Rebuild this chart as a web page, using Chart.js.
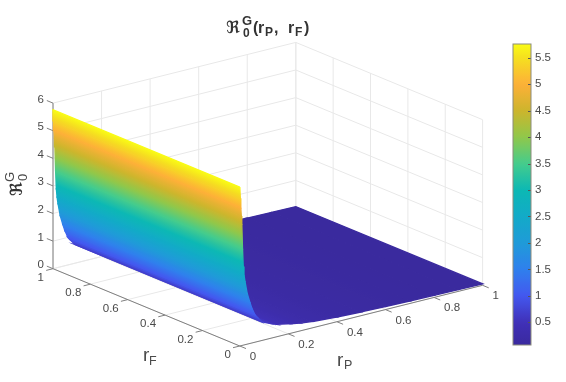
<!DOCTYPE html>
<html>
<head>
<meta charset="utf-8">
<style>
  html, body { margin: 0; padding: 0; background: #fff; }
  #wrap { position: relative; width: 566px; height: 382px; overflow: hidden; }
  #surface { position: absolute; left: 0; top: 0; }
  #colorbar { position: absolute; left: 500px; top: 30px; }
</style>
<script src="https://cdn.jsdelivr.net/npm/chart.js@4"></script>
</head>
<body>
<div id="wrap">
  <canvas id="surface" width="566" height="382"></canvas>
  <canvas id="colorbar" width="66" height="330"></canvas>
</div>
<script>
// surface does not change along rF, so one profile over rP is enough
const rPValues = [0, 0.002, 0.004, 0.006, 0.008, 0.011, 0.014, 0.017, 0.021, 0.03, 0.041, 0.05, 0.062, 0.07, 0.09, 0.124, 0.15, 0.207, 0.25, 0.3, 0.4, 0.5, 0.6, 0.7, 0.8, 0.9, 1];
const r0Values = [5.76, 5.35, 5.0, 4.7, 4.4, 3.5, 2.85, 2.55, 2.3, 1.85, 1.5, 1.25, 1.0, 0.9, 0.68, 0.55, 0.46, 0.35, 0.28, 0.23, 0.17, 0.135, 0.11, 0.09, 0.075, 0.062, 0.05];
const rFEdges = [0, 1];

const rPTicks = [0, 0.2, 0.4, 0.6, 0.8, 1];
const rFTicks = [0, 0.2, 0.4, 0.6, 0.8, 1];
const zTicks = [0, 1, 2, 3, 4, 5, 6];
const colorbarTicks = [0.5, 1, 1.5, 2, 2.5, 3, 3.5, 4, 4.5, 5, 5.5];
const colorMin = 0.07;
const colorMax = 5.76;

// colour at these values
const mapValues = [0.07, 0.5, 1, 1.5, 2, 2.5, 3, 3.5, 4, 4.5, 5, 5.5, 5.76];
const mapColors = [[58,42,158], [64,48,184], [67,88,239], [47,128,237], [31,155,216], [18,170,200], [12,184,180], [69,204,140], [144,200,74], [205,181,44], [253,176,56], [245,224,31], [249,251,21]];

const GRID = "#e8e8e8";
const AXIS = "#7f7f7f";
const TEXT = "#4a4a4a";
const SANS = '"Liberation Sans", Arial, sans-serif';

// MATLAB style orthographic view, corners
function proj(rP, rF, z) {
  return {
    x: 239.8 + rP * 242.8 - rF * 186.8,
    y: 346 - rP * 60.7 - rF * 77.3 - z * 27.6,
  };
}

function colorAt(v) {
  let i = 0;
  while (i < mapValues.length - 2 && v > mapValues[i + 1]) i++;
  const t = Math.min(1, Math.max(0, (v - mapValues[i]) / (mapValues[i + 1] - mapValues[i])));
  const c = mapColors[i].map((a, k) => Math.round(a + (mapColors[i + 1][k] - a) * t));
  return `rgb(${c[0]},${c[1]},${c[2]})`;
}

function addStops(grad, z0, z1) {
  const n = Math.max(2, Math.ceil(Math.abs(z1 - z0) / 0.08));
  for (let i = 0; i <= n; i++) {
    grad.addColorStop(i / n, colorAt(z0 + (z1 - z0) * i / n));
  }
}

// gradient for one strip, runs across the strip and stays flat along rF
function stripFill(rP0, rP1, z0, z1) {
  return (c) => {
    const { chart } = c;
    if (!chart.chartArea) return colorAt(z0);
    const sx = chart.scales.x, sy = chart.scales.y;
    const px = (p) => ({ x: sx.getPixelForValue(p.x), y: sy.getPixelForValue(p.y) });
    const a = px(proj(rP0, 0, z0));
    const b = px(proj(rP1, 0, z1));
    const e = px(proj(rP0, 1, z0));
    let nx = -(e.y - a.y), ny = e.x - a.x;
    const len = Math.hypot(nx, ny);
    nx /= len; ny /= len;
    const d = (b.x - a.x) * nx + (b.y - a.y) * ny;
    const grad = chart.ctx.createLinearGradient(a.x, a.y, a.x + nx * d, a.y + ny * d);
    addStops(grad, z0, z1);
    return grad;
  };
}

const datasets = [];
function addLine(points, color, width) {
  datasets.push({
    data: points, showLine: true, pointRadius: 0, borderColor: color, borderWidth: width,
    fill: false, tension: 0, order: -datasets.length,
  });
}

// back walls and floor grid
zTicks.forEach((z) => {
  addLine([proj(0, 1, z), proj(1, 1, z), proj(1, 0, z)], GRID, 1);
});
rPTicks.forEach((v) => {
  addLine([proj(v, 0, 0), proj(v, 1, 0), proj(v, 1, 6)], GRID, 1);
});
rFTicks.forEach((v) => {
  addLine([proj(0, v, 0), proj(1, v, 0), proj(1, v, 6)], GRID, 1);
});

// axes
addLine([proj(0, 1, 0), proj(0, 1, 6)], AXIS, 1);
addLine([proj(0, 1, 0), proj(0, 0, 0), proj(1, 0, 0)], AXIS, 1);
zTicks.forEach((z) => addLine([proj(0, 1, z), proj(0, 1.033, z)], AXIS, 1));
rFTicks.forEach((v) => addLine([proj(0, v, 0), proj(-0.028, v, 0)], AXIS, 1));
rPTicks.forEach((v) => addLine([proj(v, 0, 0), proj(v, -0.033, 0)], AXIS, 1));

// surface strips, far rP first so the wall ends up in front
for (let i = rPValues.length - 2; i >= 0; i--) {
  const a = rPValues[i], b = rPValues[i + 1];
  const za = r0Values[i], zb = r0Values[i + 1];
  const fill = stripFill(a, b, za, zb);
  datasets.push({
    data: [
      proj(a, rFEdges[0], za), proj(b, rFEdges[0], zb),
      proj(b, rFEdges[1], zb), proj(a, rFEdges[1], za), proj(a, rFEdges[0], za),
    ],
    showLine: true, pointRadius: 0, tension: 0, fill: "shape",
    backgroundColor: fill, borderColor: fill, borderWidth: 1.4,
    order: -datasets.length,
  });
}

function text(ctx, str, x, y, font, color, align) {
  ctx.font = font;
  ctx.fillStyle = color;
  ctx.textAlign = align || "left";
  ctx.textBaseline = "alphabetic";
  ctx.fillText(str, x, y);
}

const labelPlugin = {
  id: "labels3d",
  afterDraw(chart) {
    const { ctx, scales } = chart;
    const sx = (p) => scales.x.getPixelForValue(p.x);
    const sy = (p) => scales.y.getPixelForValue(p.y);
    const tickFont = "11.5px " + SANS;
    ctx.save();
    zTicks.forEach((z) => {
      const p = proj(0, 1, z);
      text(ctx, String(z), sx(p) - 9, sy(p) - 0.5, tickFont, TEXT, "right");
    });
    rFTicks.forEach((v) => {
      const p = proj(0, v, 0);
      text(ctx, String(v), sx(p) - 9, sy(p) + 12, tickFont, TEXT, "right");
    });
    rPTicks.forEach((v) => {
      const p = proj(v, 0, 0);
      text(ctx, String(v), sx(p) + 10, sy(p) + 14, tickFont, TEXT, "left");
    });

    // title pieces
    const dark = "#333333";
    text(ctx, "\u211C", 226, 33, 'bold 17px "DejaVu Sans"', dark);
    text(ctx, "G", 242, 25, "bold 13px " + SANS, dark);
    text(ctx, "0", 243, 37, "bold 12px " + SANS, dark);
    text(ctx, "(", 253, 33, "bold 16px " + SANS, dark);
    text(ctx, "r", 258, 33, "bold 16px " + SANS, dark);
    text(ctx, "P", 265, 36, "bold 12px " + SANS, dark);
    text(ctx, ",", 274, 33, "bold 16px " + SANS, dark);
    text(ctx, "r", 288, 33, "bold 16px " + SANS, dark);
    text(ctx, "F", 295, 36, "bold 12px " + SANS, dark);
    text(ctx, ")", 304, 33, "bold 16px " + SANS, dark);

    // axis names
    text(ctx, "r", 143, 361, "19px " + SANS, TEXT);
    text(ctx, "F", 149, 365, "12.5px " + SANS, TEXT);
    text(ctx, "r", 337, 366, "19px " + SANS, TEXT);
    text(ctx, "P", 344, 369, "12.5px " + SANS, TEXT);

    // z label, rotated
    ctx.translate(22, 196);
    ctx.rotate(-Math.PI / 2);
    text(ctx, "\u211C", 0, 0, 'bold 17px "DejaVu Sans"', dark);
    text(ctx, "G", 14, -8, "13px " + SANS, TEXT);
    text(ctx, "0", 15, 5, "13px " + SANS, TEXT);
    ctx.restore();
  },
};

new Chart(document.getElementById("surface"), {
  type: "scatter",
  data: { datasets: datasets },
  plugins: [labelPlugin],
  options: {
    responsive: false,
    animation: false,
    layout: { padding: 0 },
    plugins: { legend: { display: false }, tooltip: { enabled: false } },
    scales: {
      x: { type: "linear", display: false, min: 0, max: 566 },
      y: { type: "linear", display: false, min: 0, max: 382, reverse: true },
    },
  },
});

const colorbarPlugin = {
  id: "barFrame",
  afterDatasetsDraw(chart) {
    const { ctx, chartArea: a, scales } = chart;
    ctx.save();
    ctx.strokeStyle = "#555555";
    ctx.lineWidth = 1;
    colorbarTicks.forEach((v) => {
      const y = Math.round(scales.y.getPixelForValue(v)) + 0.5;
      ctx.beginPath();
      ctx.moveTo(a.right - 3, y);
      ctx.lineTo(a.right, y);
      ctx.stroke();
    });
    ctx.strokeStyle = "#8c8c7c";
    ctx.strokeRect(a.left, a.top, a.right - a.left, a.bottom - a.top);
    ctx.restore();
  },
};

new Chart(document.getElementById("colorbar"), {
  type: "bar",
  data: {
    labels: ["R0"],
    datasets: [{
      data: [[colorMin, colorMax]],
      barPercentage: 1,
      categoryPercentage: 1,
      borderWidth: 0,
      backgroundColor(c) {
        const { chart } = c;
        if (!chart.chartArea) return colorAt(colorMin);
        const y = chart.scales.y;
        const grad = chart.ctx.createLinearGradient(0, y.getPixelForValue(colorMin), 0, y.getPixelForValue(colorMax));
        addStops(grad, colorMin, colorMax);
        return grad;
      },
    }],
  },
  plugins: [colorbarPlugin],
  options: {
    responsive: false,
    animation: false,
    layout: { padding: { left: 13, top: 14, bottom: 15, right: 0 } },
    plugins: { legend: { display: false }, tooltip: { enabled: false } },
    scales: {
      x: { display: false },
      y: {
        position: "right",
        min: colorMin,
        max: colorMax,
        grid: { display: false, drawTicks: false },
        border: { display: false },
        afterBuildTicks(axis) { axis.ticks = colorbarTicks.map((v) => ({ value: v })); },
        afterFit(axis) { axis.width = 35; },
        ticks: {
          autoSkip: false,
          padding: 4,
          color: TEXT,
          font: { family: "Liberation Sans, Arial, sans-serif", size: 11.5 },
          callback: (v) => String(v),
        },
      },
    },
  },
});
</script>
</body>
</html>
